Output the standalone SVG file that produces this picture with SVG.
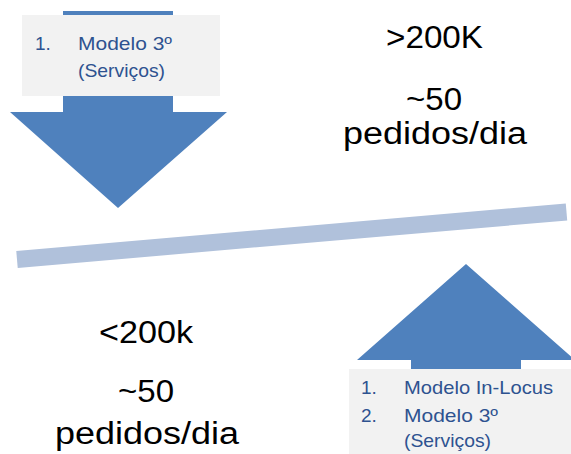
<svg xmlns="http://www.w3.org/2000/svg" width="571" height="454" viewBox="0 0 571 454">
<style>
.arrow{fill:#4F81BD}
.box{fill:#F2F2F2}
.lbl{font-family:"Liberation Sans",Arial,sans-serif;font-size:19px;fill:#2E5290}
.big{font-family:"Liberation Sans",Arial,sans-serif;font-size:31px;fill:#000;text-anchor:start}
</style>
<rect width="571" height="454" fill="#fff"/>
<g id="connectors">
<line x1="17" y1="259.5" x2="566.5" y2="212" stroke="#B0C1DB" stroke-width="17"/>
</g>
<g id="arrow-down">
<polygon class="arrow" points="63,11 173,11 173,112 227,112 118,208 10,112 63,112"/>
<rect class="box" x="22" y="15" width="198" height="81"/>
<text class="lbl" x="35" y="50">1.</text>
<text class="lbl" x="78" y="50" textLength="94" lengthAdjust="spacingAndGlyphs">Modelo 3º</text>
<text class="lbl" x="78" y="77" textLength="87" lengthAdjust="spacingAndGlyphs">(Serviços)</text>
</g>
<g id="arrow-up">
<polygon class="arrow" points="466,264 575,360 521,360 521,454 411,454 411,360 357,360"/>
<rect class="box" x="349" y="369" width="222" height="85"/>
<text class="lbl" x="361" y="394">1.</text>
<text class="lbl" x="404" y="394" textLength="149" lengthAdjust="spacingAndGlyphs">Modelo In-Locus</text>
<text class="lbl" x="361" y="422">2.</text>
<text class="lbl" x="404" y="422" textLength="94" lengthAdjust="spacingAndGlyphs">Modelo 3º</text>
<text class="lbl" x="404" y="447" textLength="87" lengthAdjust="spacingAndGlyphs">(Serviços)</text>
</g>
<g id="upper-text">
<text class="big" x="386" y="48" textLength="97" lengthAdjust="spacingAndGlyphs">&gt;200K</text>
<text class="big" x="406" y="110" textLength="56" lengthAdjust="spacingAndGlyphs">~50</text>
<text class="big" x="343" y="144" textLength="184" lengthAdjust="spacingAndGlyphs">pedidos/dia</text>
</g>
<g id="lower-text">
<text class="big" x="99" y="343" textLength="94" lengthAdjust="spacingAndGlyphs">&lt;200k</text>
<text class="big" x="118" y="402" textLength="56" lengthAdjust="spacingAndGlyphs">~50</text>
<text class="big" x="55" y="444" textLength="184" lengthAdjust="spacingAndGlyphs">pedidos/dia</text>
</g>
</svg>
